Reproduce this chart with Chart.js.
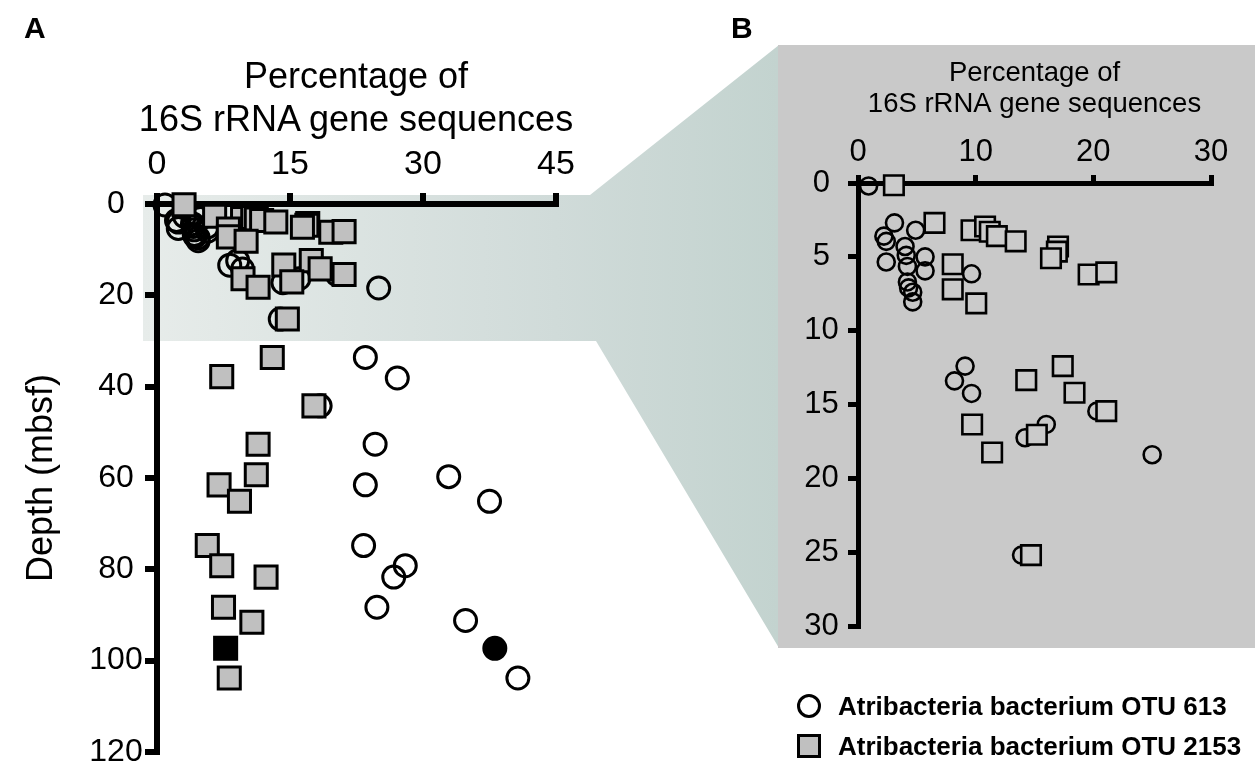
<!DOCTYPE html>
<html>
<head>
<meta charset="utf-8">
<script src="https://cdn.jsdelivr.net/npm/chart.js@4.4.1/dist/chart.umd.min.js"></script>
<style>
  html, body { margin:0; padding:0; background:#ffffff; width:1260px; height:772px; overflow:hidden;
    font-family:"Liberation Sans", Arial, sans-serif; }
  #wrapA { position:absolute; left:0; top:0; width:1260px; height:772px; }
  #wrapB { position:absolute; left:778px; top:45px; width:477px; height:603px; }
  .panel { position:absolute; font-weight:bold; font-size:30px; color:#000; line-height:1; }
  .legText { position:absolute; left:838px; font-weight:bold; font-size:26px; color:#000; line-height:30px; white-space:nowrap; }
  .mkCircle { position:absolute; left:797px; width:18px; height:18px; border:3px solid #000; border-radius:50%; background:#fff; }
  .mkSquare { position:absolute; left:797px; width:18px; height:18px; border:3px solid #000; background:#c0c0c0; }
  #titleA { position:absolute; left:156px; width:400px; top:54px; text-align:center; font-size:36px; line-height:43px;
    color:#000; white-space:nowrap; display:flex; flex-direction:column; align-items:center; }
</style>
</head>
<body>
<div id="wrapA"><canvas id="chartA" width="1260" height="772"></canvas></div>
<div id="wrapB"><canvas id="chartB" width="477" height="603"></canvas></div>
<div id="titleA"></div>
<div class="panel" style="left:24px; top:13px;">A</div>
<div class="panel" style="left:731px; top:13px;">B</div>
<div class="mkCircle" style="top:694px;"></div>
<div class="legText" style="top:691px;">Atribacteria bacterium OTU 613</div>
<div class="mkSquare" style="top:734px;"></div>
<div class="legText" style="top:731px;">Atribacteria bacterium OTU 2153</div>
<script>
// ---------------- data ----------------
// Atribacteria bacterium OTU 613 (open circles): percentage and depth (mbsf)
const otu613Pct   = [0.9, 3.1, 2.2, 2.4, 4.9, 4.0, 4.1, 2.4, 5.7, 5.7, 4.2, 4.2, 4.3, 4.65, 4.65, 9.65,
                     9.1, 8.2, 9.65, 16.0, 14.2, 20.3, 25.0, 13.9,
                     23.5, 27.1, 18.4, 24.6, 32.9, 23.5, 37.5, 23.3, 28.0, 26.7, 24.8, 34.8, 40.7];
const otu613Depth = [0.2, 2.7, 3.6, 3.95, 3.2, 4.3, 4.9, 5.35, 5.0, 5.95, 5.65, 6.7, 7.1, 7.4, 8.05, 6.15,
                     12.4, 13.4, 14.25, 16.35, 17.25, 15.45, 18.4, 25.2,
                     33.6, 38.1, 44.2, 52.6, 59.7, 61.5, 65.1, 74.8, 79.2, 81.7, 88.3, 91.2, 103.8];
// Atribacteria bacterium OTU 2153 (grey squares)
const otu2153Pct   = [3.05, 6.5, 9.65, 10.8, 11.2, 11.8, 13.4, 17.0, 16.9, 16.4, 19.6, 21.1, 8.05, 8.05, 10.05,
                      14.3, 17.4, 18.4, 21.1, 9.7, 15.2, 11.4, 14.7,
                      13.0, 7.3, 17.7, 11.4, 11.2, 7.0, 9.3, 5.67, 7.3, 12.3, 7.5, 10.7, 8.15];
const otu2153Depth = [0.15, 2.7, 3.2, 2.95, 3.3, 3.6, 3.95, 4.3, 4.65, 5.1, 6.2, 6.05, 5.5, 7.2, 8.15,
                      13.35, 12.4, 14.2, 15.45, 16.35, 17.05, 18.25, 25.2,
                      33.6, 37.8, 44.2, 52.6, 59.3, 61.5, 65.1, 74.8, 79.2, 81.7, 88.3, 91.6, 103.8];
// highlighted (filled black) samples
const hl613Pct = [38.1],  hl613Depth = [97.3];
const hl2153Pct = [7.74], hl2153Depth = [97.3];

// tick labels
const aXTicks = [0, 15, 30, 45];
const aYTicks = [0, 20, 40, 60, 80, 100, 120];
const bXTicks = [0, 10, 20, 30];
const bYTicks = [0, 5, 10, 15, 20, 25, 30];
const xTitle = ['Percentage of', '16S rRNA gene sequences'];
const yTitle = 'Depth (mbsf)';
const zoomMaxDepth = 30;

// panel A axis title as text lines
const tA = document.getElementById('titleA');
xTitle.forEach(line => { const d = document.createElement('div'); d.textContent = line; tA.appendChild(d); });

// ---------------- helpers ----------------
function pts(xs, ys, maxDepth) {
  const out = [];
  for (let i = 0; i < xs.length; i++) {
    if (maxDepth === undefined || ys[i] <= maxDepth) out.push({x: xs[i], y: ys[i]});
  }
  return out;
}
Chart.defaults.font.family = '"Liberation Sans", Arial, sans-serif';
Chart.defaults.color = '#000';

// shaded zoom connector (drawn behind panel A axes)
const shadePlugin = {
  id: 'shade',
  beforeDraw(chart) {
    const ctx = chart.ctx;
    const ys = chart.scales.y, xs = chart.scales.x;
    const top = ys.getPixelForValue(0) - 9;
    const bot = ys.getPixelForValue(zoomMaxDepth);
    const left = chart.chartArea.left - 14;
    const rTop = xs.getPixelForValue(45) + 34;
    const rBot = xs.getPixelForValue(45) + 40;
    const bEl = document.getElementById('wrapB');
    const bx = bEl.offsetLeft, by = bEl.offsetTop, bh = bEl.offsetHeight;
    const g = ctx.createLinearGradient(left, 0, bx, 0);
    g.addColorStop(0, '#e7ecea');
    g.addColorStop(0.65, '#d0dbd9');
    g.addColorStop(1, '#c3d3cf');
    ctx.save();
    ctx.fillStyle = g;
    ctx.beginPath();
    ctx.moveTo(left, top);
    ctx.lineTo(rTop, top);
    ctx.lineTo(bx + 1, by);
    ctx.lineTo(bx + 1, by + bh);
    ctx.lineTo(rBot, bot);
    ctx.lineTo(left, bot);
    ctx.closePath();
    ctx.fill();
    ctx.restore();
  }
};

const greyBg = {
  id: 'greyBg',
  beforeDraw(chart) {
    const ctx = chart.ctx;
    ctx.save();
    ctx.fillStyle = '#c9c9c9';
    ctx.fillRect(0, 0, chart.width, chart.height);
    ctx.restore();
  }
};

function axisCfg(opts) {
  return {
    type: 'linear',
    position: opts.position,
    reverse: !!opts.reverse,
    min: opts.min, max: opts.max,
    afterBuildTicks: s => { s.ticks = opts.ticks.map(v => ({value: v})); },
    afterFit: s => { if (opts.position === 'left') s.width = opts.size; else s.height = opts.size; },
    ticks: { font: {size: opts.tickFont, lineHeight: opts.tickLH || 1.2}, color: '#000', padding: opts.tickPad,
             autoSkip: false, maxRotation: 0, crossAlign: opts.crossAlign || 'near' },
    grid: { drawOnChartArea: false, drawTicks: true, tickLength: opts.tickLen, lineWidth: opts.lw, color: '#000', tickColor: '#000' },
    border: { display: true, width: opts.lw, color: '#000' },
    title: opts.title ? {
      display: true, text: opts.title, color: '#000',
      font: {size: opts.titleFont, lineHeight: opts.titleLH},
      padding: {top: opts.titlePad, bottom: 0}
    } : {display: false}
  };
}

function datasets(maxDepth, s) {
  return [
    { label: 'OTU 2153', data: pts(otu2153Pct, otu2153Depth, maxDepth), pointStyle: 'rect',
      pointRadius: s.sq, pointBorderWidth: s.bw, pointBorderColor: '#000', pointBackgroundColor: s.sqFill,
      showLine: false, clip: false },
    { label: 'OTU 2153 (highlight)', data: pts(hl2153Pct, hl2153Depth, maxDepth), pointStyle: 'rect',
      pointRadius: s.sq, pointBorderWidth: s.bw, pointBorderColor: '#000', pointBackgroundColor: '#000',
      showLine: false, clip: false },
    { label: 'OTU 613', data: pts(otu613Pct, otu613Depth, maxDepth), pointStyle: 'circle',
      pointRadius: s.ci, pointBorderWidth: s.bw, pointBorderColor: '#000', pointBackgroundColor: 'rgba(0,0,0,0)',
      showLine: false, clip: false },
    { label: 'OTU 613 (highlight)', data: pts(hl613Pct, hl613Depth, maxDepth), pointStyle: 'circle',
      pointRadius: s.ci, pointBorderWidth: s.bw, pointBorderColor: '#000', pointBackgroundColor: '#000',
      showLine: false, clip: false }
  ];
}

const common = {
  responsive: false, animation: false, devicePixelRatio: 1,
  plugins: { legend: {display: false}, tooltip: {enabled: false} },
  elements: { point: { hoverRadius: 0 } }
};

// ---------------- panel A ----------------
new Chart(document.getElementById('chartA'), {
  type: 'scatter',
  data: { datasets: datasets(undefined, {sq: 15.6, ci: 11, bw: 3, sqFill: '#c0c0c0'}) },
  options: Object.assign({}, common, {
    layout: { padding: {left: 0, top: 0, right: 704, bottom: 20} },
    scales: {
      x: axisCfg({position: 'top', min: 0, max: 45, ticks: aXTicks, size: 204, tickFont: 34, tickPad: 8,
                  tickLen: 11, lw: 6}),
      y: axisCfg({position: 'left', reverse: true, min: 0, max: 120, ticks: aYTicks, size: 157, tickFont: 32,
                  tickLH: 0.7, crossAlign: 'center', tickPad: 2.3, tickLen: 12, lw: 6,
                  title: yTitle, titleFont: 36, titleLH: 1.2, titlePad: 20})
    }
  }),
  plugins: [shadePlugin]
});

// ---------------- panel B ----------------
new Chart(document.getElementById('chartB'), {
  type: 'scatter',
  data: { datasets: datasets(zoomMaxDepth, {sq: 13.8, ci: 8.5, bw: 2.6, sqFill: '#cbcbcb'}) },
  options: Object.assign({}, common, {
    layout: { padding: {left: 0, top: 0, right: 44, bottom: 22} },
    scales: {
      x: axisCfg({position: 'top', min: 0, max: 30, ticks: bXTicks, size: 138, tickFont: 31, tickPad: 4,
                  tickLen: 8, lw: 5, title: xTitle, titleFont: 27.5, titleLH: 1.13, titlePad: 13}),
      y: axisCfg({position: 'left', reverse: true, min: 0, max: 30, ticks: bYTicks, size: 80, tickFont: 31,
                  tickLH: 0.7, crossAlign: 'center', tickPad: 9.3, tickLen: 10, lw: 5})
    }
  }),
  plugins: [greyBg]
});
</script>
</body>
</html>
